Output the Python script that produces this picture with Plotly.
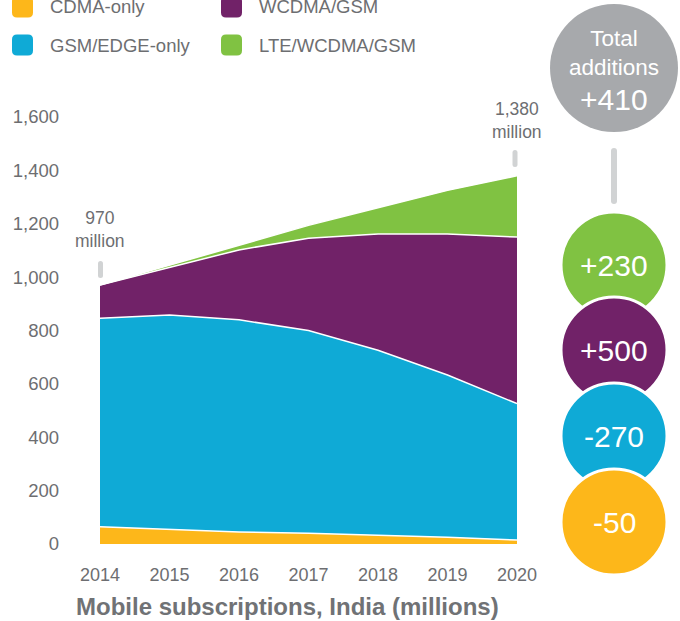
import plotly.graph_objects as go

# ---------------- data ----------------
years = [2014, 2015, 2016, 2017, 2018, 2019, 2020]
cdma_only = [65, 55, 45, 40, 33, 25, 15]
gsm_edge_only = [781, 803, 795, 760, 693, 608, 511]
wcdma_gsm = [124, 179, 262, 346, 436, 529, 624]
lte_wcdma_gsm = [0, 7, 17, 48, 98, 163, 230]

series_names = ["CDMA-only", "GSM/EDGE-only", "WCDMA/GSM", "LTE/WCDMA/GSM"]
series_values = [cdma_only, gsm_edge_only, wcdma_gsm, lte_wcdma_gsm]
series_colors = ["#FDB71A", "#0FAAD6", "#712268", "#80C242"]

y_tick_values = [0, 200, 400, 600, 800, 1000, 1200, 1400, 1600]
y_tick_labels = ["0", "200", "400", "600", "800", "1,000", "1,200", "1,400", "1,600"]
x_tick_labels = ["2014", "2015", "2016", "2017", "2018", "2019", "2020"]

title_text = "Mobile subscriptions, India (millions)"

totals = [sum(v) for v in zip(*series_values)]

TXT = "#6D6E71"
FONT = "Liberation Sans, Arial, sans-serif"
W, H = 680, 621
# plot area in pixels
L, R, T, B = 100, 517, 117, 544


def px(x):
    return (x - L) / (R - L)


def py(y):
    return (B - y) / (B - T)


def rrect(x0, y0, x1, y1, r):
    return (
        f"M {px(x0 + r)},{py(y0)} L {px(x1 - r)},{py(y0)} "
        f"Q {px(x1)},{py(y0)} {px(x1)},{py(y0 + r)} "
        f"L {px(x1)},{py(y1 - r)} Q {px(x1)},{py(y1)} {px(x1 - r)},{py(y1)} "
        f"L {px(x0 + r)},{py(y1)} Q {px(x0)},{py(y1)} {px(x0)},{py(y1 - r)} "
        f"L {px(x0)},{py(y0 + r)} Q {px(x0)},{py(y0)} {px(x0 + r)},{py(y0)} Z"
    )


fig = go.Figure()
for name, vals, col in zip(series_names, series_values, series_colors):
    fig.add_trace(go.Scatter(
        x=years, y=vals, name=name, mode="lines", stackgroup="one",
        line=dict(color="white", width=1.5), fillcolor=col,
        hoverinfo="skip", showlegend=False,
    ))

shapes = []
annotations = []

# legend (manual, 2 columns)
legend_items = [
    ("CDMA-only", series_colors[0], 12, 7),
    ("WCDMA/GSM", series_colors[2], 221, 7),
    ("GSM/EDGE-only", series_colors[1], 12, 45),
    ("LTE/WCDMA/GSM", series_colors[3], 221, 45),
]
for text, col, x, yc in legend_items:
    shapes.append(dict(type="path", xref="paper", yref="paper",
                       path=rrect(x, yc - 10.5, x + 21, yc + 10.5, 5),
                       fillcolor=col, line=dict(width=0), layer="above"))
    annotations.append(dict(xref="paper", yref="paper", x=px(x + 36), y=py(yc),
                            text=text, showarrow=False, xanchor="left", yanchor="middle",
                            font=dict(family=FONT, size=18.5, color=TXT)))


def fmt(v):
    return f"{v:,}"


start_total = totals[0]
end_total = round(totals[-1] / 10) * 10
# small marker bars above start / end totals
shapes.append(dict(type="path", xref="paper", yref="paper",
                   path=rrect(98, 261, 103, 278, 2.5), fillcolor="#D1D3D4",
                   line=dict(width=0), layer="above"))
shapes.append(dict(type="path", xref="paper", yref="paper",
                   path=rrect(512.5, 150, 517.5, 167, 2.5), fillcolor="#D1D3D4",
                   line=dict(width=0), layer="above"))
annotations.append(dict(x=years[0], y=start_total, xref="x", yref="y",
                        text=f"{fmt(start_total)}<br>million", showarrow=False,
                        yanchor="bottom", xanchor="center", yshift=32,
                        font=dict(family=FONT, size=17.5, color=TXT)))
annotations.append(dict(x=years[-1], y=end_total, xref="x", yref="y",
                        text=f"{fmt(end_total)}<br>million", showarrow=False,
                        yanchor="bottom", xanchor="center", yshift=32,
                        font=dict(family=FONT, size=17.5, color=TXT)))

# right-side circles
cx = 614
gr = 64
gcy = 68
shapes.append(dict(type="circle", xref="paper", yref="paper",
                   x0=px(cx - gr), x1=px(cx + gr), y0=py(gcy + gr), y1=py(gcy - gr),
                   fillcolor="#A7A9AC", line=dict(width=0), layer="above"))
shapes.append(dict(type="path", xref="paper", yref="paper",
                   path=rrect(611, 148, 617, 204, 3), fillcolor="#D1D3D4",
                   line=dict(width=0), layer="above"))
annotations.append(dict(xref="paper", yref="paper", x=px(cx), y=py(53),
                        text="Total<br>additions", showarrow=False,
                        xanchor="center", yanchor="middle",
                        font=dict(family=FONT, size=22.5, color="white")))
total_change = end_total - start_total
annotations.append(dict(xref="paper", yref="paper", x=px(cx), y=py(100),
                        text=f"{total_change:+d}", showarrow=False,
                        xanchor="center", yanchor="middle",
                        font=dict(family=FONT, size=30, color="white")))

r = 53
circle_centers = [265, 350, 436, 522]
order = [3, 2, 1, 0]  # LTE, WCDMA, GSM, CDMA from top
for cy, idx in zip(circle_centers, order):
    vals = series_values[idx]
    change = round((vals[-1] - vals[0]) / 10) * 10
    shapes.append(dict(type="circle", xref="paper", yref="paper",
                       x0=px(cx - r), x1=px(cx + r), y0=py(cy + r), y1=py(cy - r),
                       fillcolor=series_colors[idx], line=dict(color="white", width=3),
                       layer="above"))
    annotations.append(dict(xref="paper", yref="paper", x=px(cx), y=py(cy),
                            text=f"{change:+d}", showarrow=False,
                            xanchor="center", yanchor="middle",
                            font=dict(family=FONT, size=30, color="white")))

# axis title
annotations.append(dict(xref="paper", yref="paper", x=px(287), y=py(606),
                        text=f"<b>{title_text}</b>", showarrow=False, xanchor="center",
                        yanchor="middle",
                        font=dict(family=FONT, size=24, color="#707275")))

fig.update_layout(
    width=W, height=H,
    margin=dict(l=L, r=W - R, t=T, b=H - B, pad=0, autoexpand=False),
    paper_bgcolor="white", plot_bgcolor="white",
    shapes=shapes, annotations=annotations,
    showlegend=False,
    font=dict(family=FONT, color=TXT),
    xaxis=dict(range=[years[0], years[-1]], tickvals=years, ticktext=x_tick_labels,
               showgrid=False, zeroline=False, showline=False, ticks="",
               tickfont=dict(family=FONT, size=18, color=TXT),
               ticklabelstandoff=18, fixedrange=True, automargin=False),
    yaxis=dict(range=[0, 1600], tickvals=y_tick_values, ticktext=y_tick_labels,
               showgrid=False, zeroline=False, showline=False, ticks="",
               tickfont=dict(family=FONT, size=18.5, color=TXT),
               ticklabelstandoff=40, fixedrange=True, automargin=False),
)

fig.write_html("out.html", config={"displayModeBar": False},
               post_script="document.body.style.margin='0';document.body.style.overflow='hidden';")
